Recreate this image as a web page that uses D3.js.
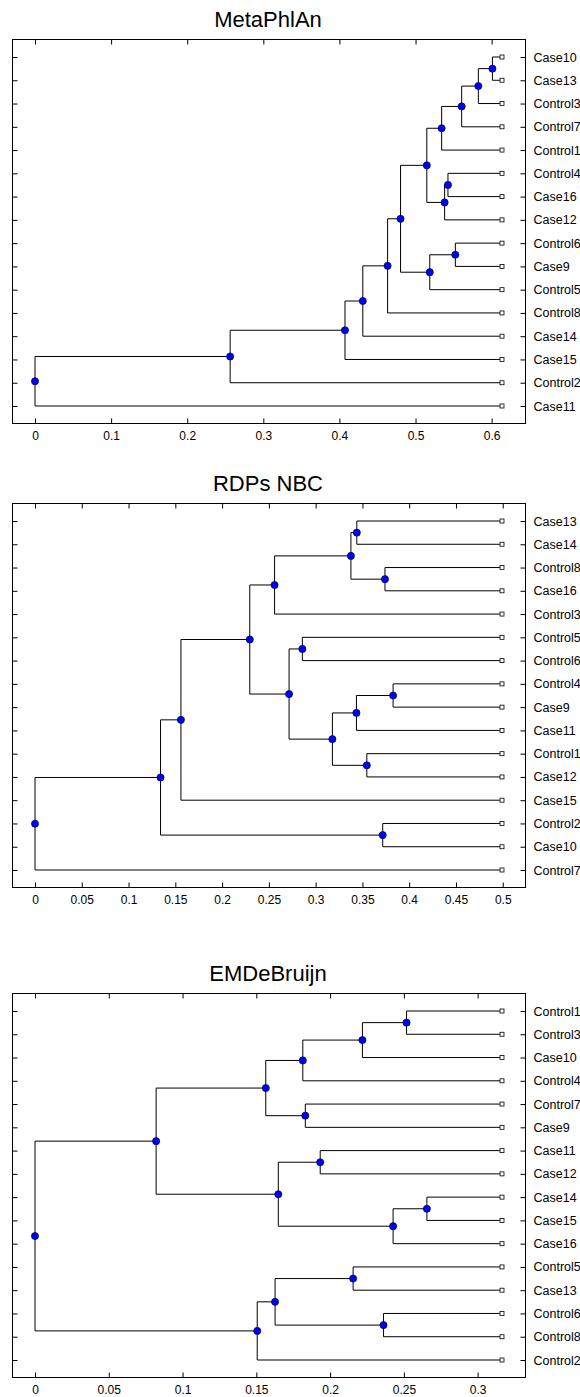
<!DOCTYPE html>
<html>
<head>
<meta charset="utf-8">
<script src="https://cdn.jsdelivr.net/npm/d3@7"></script>
<style>
  body { margin: 0; background: #fff; }
  svg { display: block; font-family: "Liberation Sans", Arial, sans-serif; }
</style>
</head>
<body>
<div id="chart"></div>
<script>
// Leaf order, merges (leaf name or index of earlier merge) and merge heights
const metaLeaves = ["Case10", "Case13", "Control3", "Control7", "Control1", "Control4", "Case16", "Case12",
  "Control6", "Case9", "Control5", "Control8", "Case14", "Case15", "Control2", "Case11"];
const metaMerges = [["Case10", "Case13"], [0, "Control3"], [1, "Control7"], [2, "Control1"],
  ["Control4", "Case16"], [4, "Case12"], [3, 5], ["Control6", "Case9"], [7, "Control5"], [6, 8],
  [9, "Control8"], [10, "Case14"], [11, "Case15"], [12, "Control2"], [13, "Case11"]];
const metaHeights = [0.601, 0.5825, 0.5606, 0.5343, 0.5426, 0.5382, 0.5148, 0.5523, 0.5187,
  0.4803, 0.4633, 0.4307, 0.4073, 0.2564, 0];
const metaTip = 0.6136;
const metaTicks = [0, 0.1, 0.2, 0.3, 0.4, 0.5, 0.6];
const metaTickLabels = ["0", "0.1", "0.2", "0.3", "0.4", "0.5", "0.6"];

const rdpLeaves = ["Case13", "Case14", "Control8", "Case16", "Control3", "Control5", "Control6", "Control4",
  "Case9", "Case11", "Control1", "Case12", "Case15", "Control2", "Case10", "Control7"];
const rdpMerges = [["Case13", "Case14"], ["Control8", "Case16"], [0, 1], [2, "Control3"],
  ["Control5", "Control6"], ["Control4", "Case9"], [5, "Case11"], ["Control1", "Case12"], [6, 7],
  [4, 8], [3, 9], [10, "Case15"], ["Control2", "Case10"], [11, 12], [13, "Control7"]];
const rdpHeights = [0.344, 0.3741, 0.3377, 0.2561, 0.2858, 0.3828, 0.3436, 0.3547, 0.3179,
  0.2716, 0.2296, 0.156, 0.3717, 0.1342, 0];
const rdpTip = 0.4992;
const rdpTicks = [0, 0.05, 0.1, 0.15, 0.2, 0.25, 0.3, 0.35, 0.4, 0.45, 0.5];
const rdpTickLabels = ["0", "0.05", "0.1", "0.15", "0.2", "0.25", "0.3", "0.35", "0.4", "0.45", "0.5"];

const emLeaves = ["Control1", "Control3", "Case10", "Control4", "Control7", "Case9", "Case11", "Case12",
  "Case14", "Case15", "Case16", "Control5", "Case13", "Control6", "Control8", "Control2"];
const emMerges = [["Control1", "Control3"], [0, "Case10"], [1, "Control4"], ["Control7", "Case9"], [2, 3],
  ["Case11", "Case12"], ["Case14", "Case15"], [6, "Case16"], [5, 7], [4, 8],
  ["Control5", "Case13"], ["Control6", "Control8"], [10, 11], [12, "Control2"], [9, 13]];
const emHeights = [0.2518, 0.2219, 0.1815, 0.1832, 0.1564, 0.1933, 0.2656, 0.2427, 0.1649,
  0.0821, 0.2156, 0.2362, 0.1627, 0.1506, 0];
const emTip = 0.3165;
const emTicks = [0, 0.05, 0.1, 0.15, 0.2, 0.25, 0.3];
const emTickLabels = ["0", "0.05", "0.1", "0.15", "0.2", "0.25", "0.3"];

const panels = [
  { title: "MetaPhlAn", leaves: metaLeaves, merges: metaMerges, heights: metaHeights, tip: metaTip, ticks: metaTicks, tickLabels: metaTickLabels, top: 39.5 },
  { title: "RDPs NBC", leaves: rdpLeaves, merges: rdpMerges, heights: rdpHeights, tip: rdpTip, ticks: rdpTicks, tickLabels: rdpTickLabels, top: 503.5 },
  { title: "EMDeBruijn", leaves: emLeaves, merges: emMerges, heights: emHeights, tip: emTip, ticks: emTicks, tickLabels: emTickLabels, top: 993.5 },
];

const width = 580;
const height = 1397;
const frame = { left: 12.5, right: 525.5, height: 384 };
const zeroX = 35;
const tipX = 502;
const rowPad = 17.5;
const tickLen = 5;

const svg = d3.select("#chart").append("svg")
  .attr("width", width)
  .attr("height", height);

panels.forEach((p) => {
  const g = svg.append("g").attr("transform", `translate(0, ${p.top})`);

  const x = d3.scaleLinear().domain([0, p.tip]).range([zeroX, tipX]);
  const y = d3.scalePoint().domain(p.leaves).range([rowPad, frame.height - rowPad]);

  // positions of leaves and merge nodes
  const pos = {};
  p.leaves.forEach((l) => { pos[l] = { x: x(p.tip), y: y(l) }; });
  const nodes = [];
  p.merges.forEach((m, i) => {
    const kids = m.map((c) => (typeof c === "number" ? nodes[c] : pos[c]));
    nodes.push({ x: x(p.heights[i]), y: d3.mean(kids, (k) => k.y), kids: kids });
  });

  // frame
  g.append("rect")
    .attr("x", frame.left)
    .attr("y", 0)
    .attr("width", frame.right - frame.left)
    .attr("height", frame.height)
    .attr("fill", "none")
    .attr("stroke", "#000")
    .attr("stroke-width", 1);

  // axes with inward ticks
  const tickFmt = (d) => p.tickLabels[p.ticks.indexOf(d)];
  const xb = g.append("g").attr("transform", `translate(0, ${frame.height})`)
    .call(d3.axisBottom(x).tickValues(p.ticks).tickSize(-tickLen).tickPadding(8).tickFormat(tickFmt));
  const xt = g.append("g")
    .call(d3.axisTop(x).tickValues(p.ticks).tickSize(-tickLen).tickFormat(""));
  const yl = g.append("g").attr("transform", `translate(${frame.left}, 0)`)
    .call(d3.axisLeft(y).tickSize(-tickLen).tickFormat(""));
  const yr = g.append("g").attr("transform", `translate(${frame.right}, 0)`)
    .call(d3.axisRight(y).tickSize(-tickLen).tickPadding(8));

  [xb, xt, yl, yr].forEach((a) => {
    a.select(".domain").remove();
    a.selectAll("line").attr("stroke", "#000");
    a.attr("font-family", null).attr("font-size", null);
  });
  xb.selectAll("text").style("font-size", "12px").attr("fill", "#000");
  yr.selectAll("text").style("font-size", "12.5px").attr("fill", "#000");

  // branches
  const branch = d3.path();
  nodes.forEach((n) => {
    const ys = n.kids.map((k) => k.y);
    branch.moveTo(n.x, d3.min(ys));
    branch.lineTo(n.x, d3.max(ys));
    n.kids.forEach((k) => {
      branch.moveTo(n.x, k.y);
      branch.lineTo(k.x, k.y);
    });
  });
  g.append("path")
    .attr("d", branch.toString())
    .attr("fill", "none")
    .attr("stroke", "#000")
    .attr("stroke-width", 1);

  // leaf markers
  g.selectAll("rect.leaf")
    .data(p.leaves)
    .enter()
    .append("rect")
    .attr("class", "leaf")
    .attr("x", (d) => pos[d].x - 2)
    .attr("y", (d) => pos[d].y - 2)
    .attr("width", 4)
    .attr("height", 4)
    .attr("fill", "#fff")
    .attr("stroke", "#000")
    .attr("stroke-width", 0.8);

  // merge nodes
  g.selectAll("circle.node")
    .data(nodes)
    .enter()
    .append("circle")
    .attr("class", "node")
    .attr("cx", (d) => d.x)
    .attr("cy", (d) => d.y)
    .attr("r", 3.6)
    .attr("fill", "#0000ff")
    .attr("stroke", "#000")
    .attr("stroke-width", 0.6);

  // title
  svg.append("text")
    .attr("x", 268)
    .attr("y", p.top - 20)
    .attr("text-anchor", "middle")
    .attr("dominant-baseline", "central")
    .style("font-size", "22px")
    .text(p.title);
});
</script>
</body>
</html>
